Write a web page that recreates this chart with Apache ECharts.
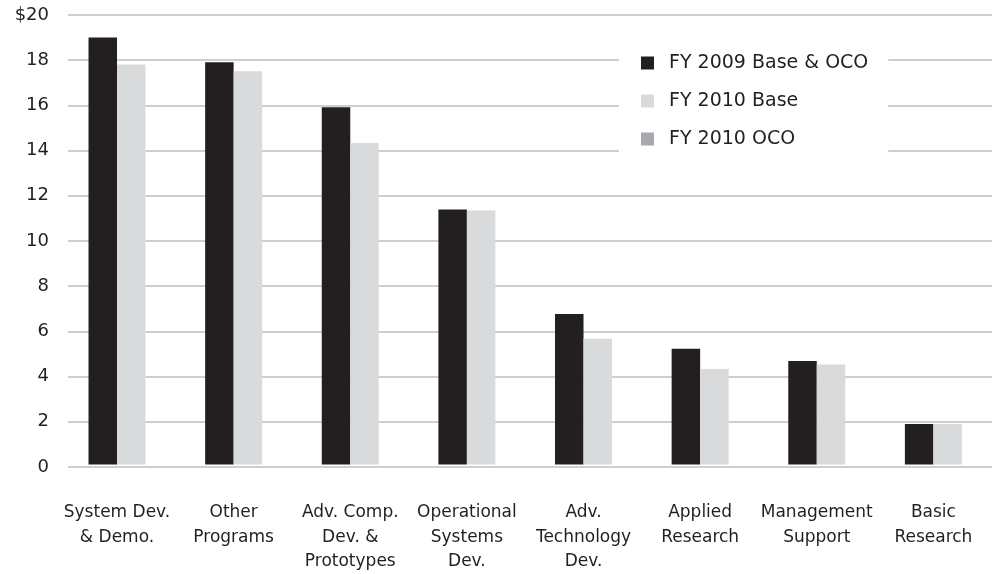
<!DOCTYPE html>
<html>
<head>
<meta charset="utf-8">
<script src="https://cdn.jsdelivr.net/npm/echarts@6/dist/echarts.min.js"></script>
<style>
  html, body { margin: 0; padding: 0; background: #ffffff; }
  #chart { width: 992px; height: 574px; }
</style>
</head>
<body>
<div id="chart"></div>
<script>
var categories = [
  'System Dev.\n& Demo.',
  'Other\nPrograms',
  'Adv. Comp.\nDev. &\nPrototypes',
  'Operational\nSystems\nDev.',
  'Adv.\nTechnology\nDev.',
  'Applied\nResearch',
  'Management\nSupport',
  'Basic\nResearch'
];
var seriesNames = ['FY 2009 Base & OCO', 'FY 2010 Base', 'FY 2010 OCO'];
var fy2009 = [19.0, 17.9, 15.9, 11.35, 6.7, 5.15, 4.6, 1.8];
var fy2010Base = [17.8, 17.5, 14.3, 11.3, 5.6, 4.25, 4.45, 1.8];
var fy2010Oco = [0, 0, 0, 0, 0, 0, 0, 0];
var yMin = 0, yMax = 20, yStep = 2;
var yTopPrefix = '$';

var textColor = '#231f20';
var font = '"DejaVu Sans", "Liberation Sans", sans-serif';

var chart = echarts.init(document.getElementById('chart'), null, { renderer: 'canvas' });
chart.setOption({
  animation: false,
  backgroundColor: '#ffffff',
  grid: [
    { left: 58.7, right: 0.3, top: 15, bottom: 107 },
    { left: 68, right: 0, top: 15, bottom: 107 }
  ],
  legend: {
    orient: 'vertical',
    left: 619,
    top: 40,
    width: 274,
    padding: [13, 20, 20, 22],
    itemGap: 18,
    itemWidth: 13,
    itemHeight: 13,
    backgroundColor: '#ffffff',
    itemStyle: { borderWidth: 0 },
    data: seriesNames.map(function (n) { return { name: n, icon: 'rect' }; }),
    textStyle: {
      fontFamily: font,
      fontSize: 19,
      lineHeight: 20,
      color: textColor,
      padding: [0, 0, 0, 10]
    }
  },
  xAxis: [
    {
      type: 'category',
      gridIndex: 0,
      data: categories,
      axisLine: { show: false },
      axisTick: { show: false },
      axisLabel: {
        interval: 0,
        margin: 36,
        fontFamily: font,
        fontSize: 17,
        lineHeight: 24.5,
        color: textColor,
        align: 'center'
      }
    },
    {
      type: 'category',
      gridIndex: 1,
      data: categories,
      show: false
    }
  ],
  yAxis: [
    {
      type: 'value',
      gridIndex: 0,
      min: yMin, max: yMax, interval: yStep,
      show: false,
      splitLine: { show: false }
    },
    {
      type: 'value',
      gridIndex: 1,
      min: yMin, max: yMax, interval: yStep,
      axisLine: { show: false },
      axisTick: { show: false },
      splitLine: { show: true, lineStyle: { color: '#bdbec0', width: 1.6 } },
      axisLabel: {
        margin: 19,
        fontFamily: font,
        fontSize: 18,
        color: textColor,
        formatter: function (v) { return v === yMax ? yTopPrefix + v : String(v); }
      }
    }
  ],
  series: [
    {
      name: seriesNames[0],
      type: 'bar',
      xAxisIndex: 0, yAxisIndex: 0,
      data: fy2009,
      barWidth: 28.5,
      barGap: '0%',
      itemStyle: { color: '#231f20' }
    },
    {
      name: seriesNames[1],
      type: 'bar',
      xAxisIndex: 0, yAxisIndex: 0,
      stack: 'fy2010',
      data: fy2010Base,
      barWidth: 28.5,
      barGap: '0%',
      itemStyle: { color: '#d9dadb' }
    },
    {
      name: seriesNames[2],
      type: 'bar',
      xAxisIndex: 0, yAxisIndex: 0,
      stack: 'fy2010',
      data: fy2010Oco,
      barWidth: 28.5,
      barGap: '0%',
      itemStyle: { color: '#a7a9ac' }
    }
  ]
});
</script>
</body>
</html>
